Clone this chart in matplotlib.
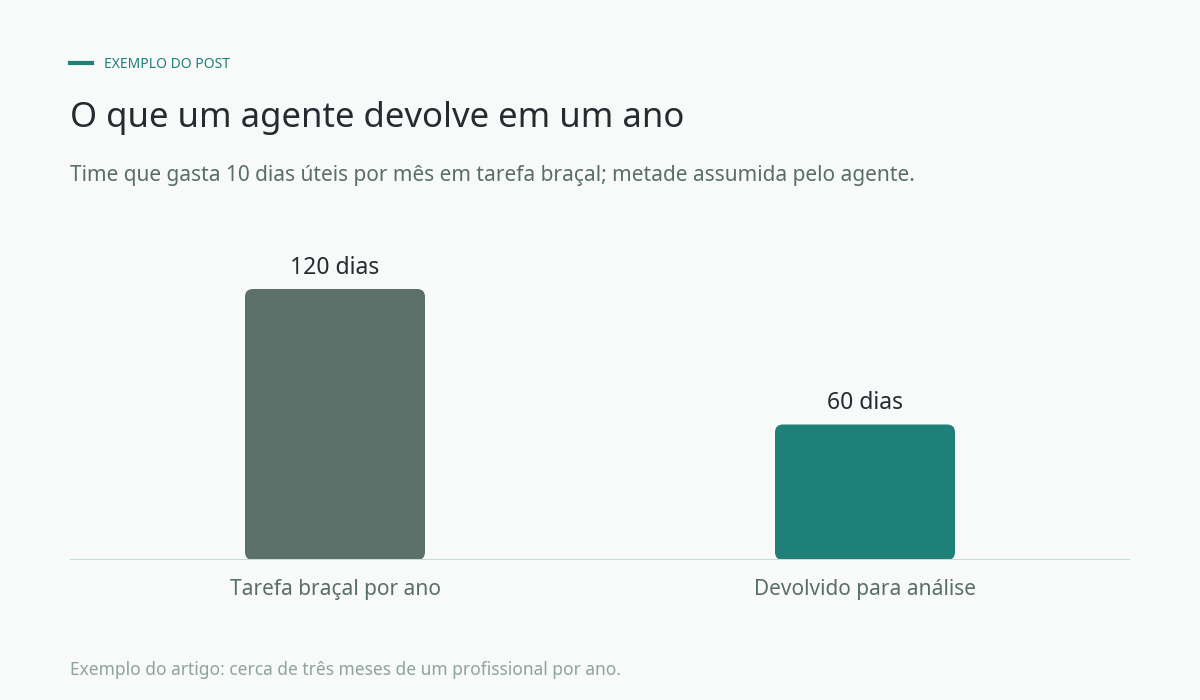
import matplotlib
matplotlib.use('Agg')
import matplotlib.pyplot as plt
from matplotlib.patches import FancyBboxPatch
from matplotlib.lines import Line2D

categories = ['Tarefa braçal por ano', 'Devolvido para análise']
values = [120, 60]
value_labels = ['120 dias', '60 dias']
colors = ['#5a7069', '#1e8078']

BG = '#f7faf9'
plt.rcParams['font.family'] = ['Noto Sans', 'DejaVu Sans']

fig = plt.figure(figsize=(12, 7), dpi=100, facecolor=BG)
ax = fig.add_axes([70 / 1200, 0.2, 1060 / 1200, 310 / 700])
ax.set_facecolor(BG)
ax.set_xlim(-0.5, 1.5)
ymax = 120 * 310 / 271
ax.set_ylim(0, ymax)

width = 180 / 1060 * 2
aspect = (ymax / 310) / (2 / 1060)
for i, (v, c) in enumerate(zip(values, colors)):
    p = FancyBboxPatch((i - width / 2, 0), width, v,
                       boxstyle='round,pad=0,rounding_size=0.015',
                       mutation_aspect=aspect, facecolor=c, edgecolor='none')
    ax.add_patch(p)
    ax.text(i, v + 4, value_labels[i], ha='center', va='bottom',
            fontsize=16.5, fontweight='bold', color='#262b30')

ax.axhline(0, color='#c8dcd8', lw=1.5)
ax.set_xticks([0, 1])
ax.set_xticklabels(categories, fontsize=15, fontweight='bold', color='#5a6e69')
ax.tick_params(axis='x', length=0, pad=14)
ax.set_yticks([])
for s in ax.spines.values():
    s.set_visible(False)

fig.add_artist(Line2D([70 / 1200, 92 / 1200], [1 - 63 / 700] * 2, color='#1e8078', lw=3))
fig.text(104 / 1200, 1 - 64 / 700, 'EXEMPLO DO POST', fontsize=10, fontweight='bold',
         color='#1e8078', va='center')
fig.text(70 / 1200, 1 - 118 / 700, 'O que um agente devolve em um ano', fontsize=25,
         fontweight='bold', color='#262b30', va='center')
fig.text(70 / 1200, 1 - 175 / 700,
         'Time que gasta 10 dias úteis por mês em tarefa braçal; metade assumida pelo agente.',
         fontsize=15, color='#5a6e69', va='center')
fig.text(70 / 1200, 1 - 670 / 700,
         'Exemplo do artigo: cerca de três meses de um profissional por ano.',
         fontsize=12.5, color='#8fa39e', va='center')

fig.savefig('out.png', facecolor=BG)
